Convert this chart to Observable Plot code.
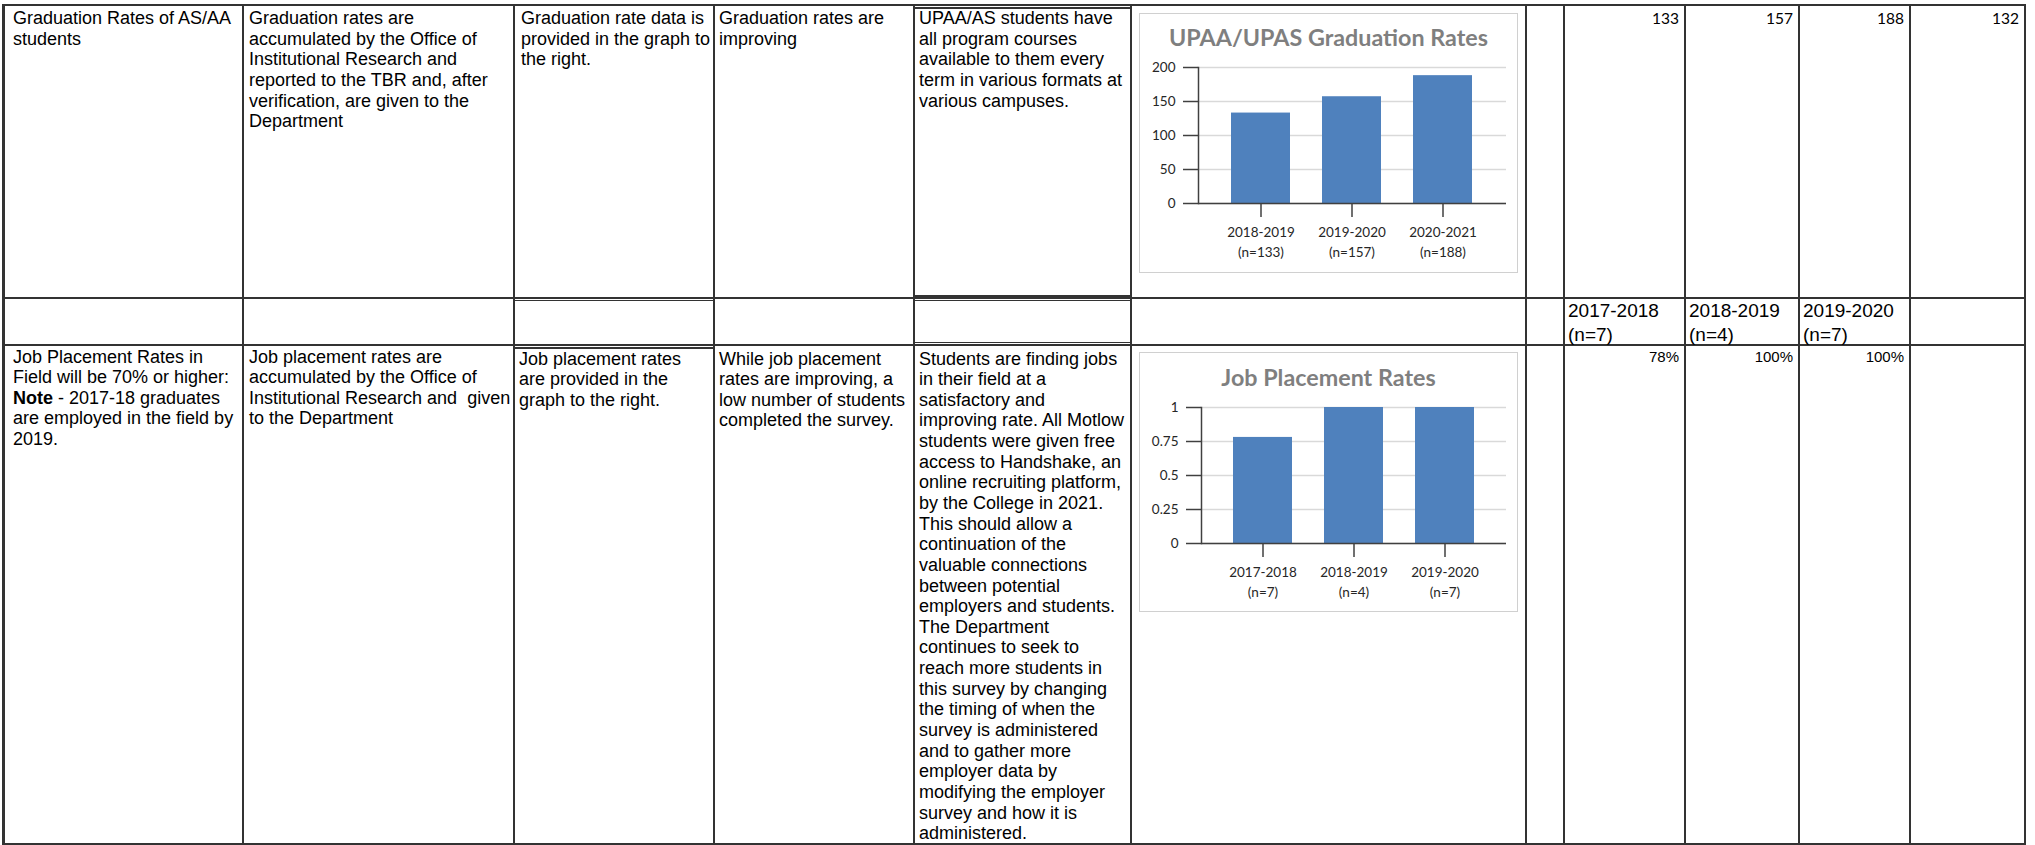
<!DOCTYPE html>
<html><head><meta charset="utf-8">
<script src="https://cdn.jsdelivr.net/npm/d3@7"></script>
<script src="https://cdn.jsdelivr.net/npm/@observablehq/plot@0.6"></script>
<style>
html,body{margin:0;padding:0;background:#fff;}
#page{position:relative;width:2035px;height:845px;overflow:hidden;background:#fff;font-family:"Liberation Sans",Arial,sans-serif;color:#000;}
.ln{position:absolute;background:#333;}
.cell{position:absolute;font-size:18px;line-height:20.65px;white-space:pre;}
.cell div{height:20.65px;}
.num{position:absolute;font-family:Lato,sans-serif;font-size:15.5px;line-height:20px;text-align:right;white-space:pre;}
.pct{position:absolute;font-size:15px;line-height:18px;text-align:right;white-space:pre;}
.hdr{position:absolute;font-size:19px;line-height:24px;white-space:pre;}
.chart{position:absolute;background:#fff;outline:1.5px solid #d0d0d0;outline-offset:-1.5px;}
.ctitle{position:absolute;left:0;right:0;text-align:center;font-family:Lato,sans-serif;font-weight:700;font-size:23.3px;color:#7f7f7f;line-height:28px;}
.chart svg{position:absolute;left:0;top:0;}
</style></head><body><div id="page"></div>
<script>
// ---------- data ----------
const gradYears = ["2018-2019", "2019-2020", "2020-2021"];
const gradN = [133, 157, 188];
const gradRates = [133, 157, 188];
const gradTicks = [0, 50, 100, 150, 200];
const gradTitle = "UPAA/UPAS Graduation Rates";

const jobYears = ["2017-2018", "2018-2019", "2019-2020"];
const jobN = [7, 4, 7];
const jobRates = [0.78, 1, 1];
const jobTicks = [0, 0.25, 0.5, 0.75, 1];
const jobTitle = "Job Placement Rates";

const gradTableValues = ["133", "157", "188", "132"];
const jobTableYears = ["2017-2018", "2018-2019", "2019-2020"];
const jobTableN = [7, 4, 7];
const jobTablePct = ["78%", "100%", "100%"];

const row1Text = [
  "Graduation Rates of AS/AA\nstudents",
  "Graduation rates are\naccumulated by the Office of\nInstitutional Research and\nreported to the TBR and, after\nverification, are given to the\nDepartment",
  "Graduation rate data is\nprovided in the graph to\nthe right.",
  "Graduation rates are\nimproving",
  "UPAA/AS students have\nall program courses\navailable to them every\nterm in various formats at\nvarious campuses."
];
const row3Text = [
  "Job Placement Rates in\nField will be 70% or higher:\n<b>Note</b><span> - 2017-18 graduates</span>\nare employed in the field by\n2019.",
  "Job placement rates are\naccumulated by the Office of\nInstitutional Research and  given\nto the Department",
  "Job placement rates\nare provided in the\ngraph to the right.",
  "While job placement\nrates are improving, a\nlow number of students\ncompleted the survey.",
  "Students are finding jobs\nin their field at a\nsatisfactory and\nimproving rate. All Motlow\nstudents were given free\naccess to Handshake, an\nonline recruiting platform,\nby the College in 2021.\nThis should allow a\ncontinuation of the\nvaluable connections\nbetween potential\nemployers and students.\nThe Department\ncontinues to seek to\nreach more students in\nthis survey by changing\nthe timing of when the\nsurvey is administered\nand to gather more\nemployer data by\nmodifying the employer\nsurvey and how it is\nadministered."
];

// ---------- layout ----------
const page = document.getElementById("page");
function el(cls, css, html) {
  const d = document.createElement("div");
  d.className = cls;
  for (const k in css) d.style[k] = css[k];
  if (html != null) d.innerHTML = html;
  page.appendChild(d);
  return d;
}
function lines(t) { return t.split("\n").map(l => `<div>${l}</div>`).join(""); }
function vline(x, y1, y2, w = 2) { el("ln", {left: (x - w / 2) + "px", top: (y1 - 1) + "px", width: w + "px", height: (y2 - y1 + 2) + "px"}); }
function hline(x1, x2, y, w = 2) { el("ln", {left: (x1 - 1) + "px", top: (y - w / 2) + "px", width: (x2 - x1 + 2) + "px", height: w + "px"}); }

const colX = [3, 243, 514, 714, 914, 1131, 1526, 1564, 1685, 1799, 1910, 2025];
const rowY = [5, 298, 345, 844];
colX.forEach((x, i) => vline(x, rowY[0], rowY[3], i === 0 ? 3 : (i === 5 ? 2.5 : 2)));
rowY.forEach(y => hline(colX[0], colX[colX.length - 1], y));
// double rules seen in the reference
hline(914, 1131, 7.8, 1.5);
hline(914, 1131, 295.8, 1.5);
hline(914, 1131, 300.6, 1.5);
hline(914, 1131, 342.4, 1.5);
hline(514, 714, 300.6, 1.5);
hline(514, 714, 347.8, 1.5);

const textLeft = [13, 249, 521, 719, 919];
row1Text.forEach((t, i) => el("cell", {left: textLeft[i] + "px", top: "8px"}, lines(t)));
const row3Left = [13, 249, 519, 719, 919];
row3Text.forEach((t, i) => el("cell", {left: row3Left[i] + "px", top: (i < 2 ? 346.5 : 348.5) + "px"}, lines(t)));

gradTableValues.forEach((v, i) => el("num", {left: colX[7 + i] + "px", width: (colX[8 + i] - colX[7 + i] - 6) + "px", top: "8px"}, v));
jobTableYears.forEach((y, i) => el("hdr", {left: (colX[7 + i] + 4) + "px", top: "299px"}, `${y}\n(n=${jobTableN[i]})`));
jobTablePct.forEach((v, i) => el("pct", {left: colX[7 + i] + "px", width: (colX[8 + i] - colX[7 + i] - 6) + "px", top: "348px"}, v));

// ---------- charts ----------
function barChart({cats, ns, values, ticks, domain, left, top, title, marginLeft, marginTop, marginBottom, titleY}) {
  const W = 379, H = 260;
  const labels = cats.map((c, i) => `${c}\n(n=${ns[i]})`);
  const data = labels.map((l, i) => ({label: l, value: values[i]}));
  const box = el("chart", {left: left + "px", top: top + "px", width: W + "px", height: H + "px"});
  const svg = Plot.plot({
    width: W, height: H,
    marginLeft, marginRight: 12, marginTop, marginBottom,
    style: {fontFamily: "Lato, sans-serif", background: "transparent", overflow: "visible"},
    x: {domain: labels, padding: 0.35, label: null},
    y: {domain, label: null},
    marks: [
      Plot.gridY(ticks, {stroke: "#d9d9d9", strokeOpacity: 1, strokeWidth: 1.3}),
      Plot.barY(data, {x: "label", y: "value", fill: "#4f81bd"}),
      Plot.axisY(ticks, {label: null, tickSize: 15, tickPadding: 8, stroke: "#404040", strokeWidth: 1.5, fill: "#262626", fontSize: 13.5, tickFormat: d => String(d)}),
      Plot.ruleY([0], {stroke: "#404040", strokeWidth: 1.5}),
      Plot.frame({anchor: "left", stroke: "#404040", strokeWidth: 1.5}),
      Plot.axisX({label: null, tickSize: 14, tickPadding: 6, stroke: "#404040", strokeWidth: 1.5, fill: "#262626", fontSize: 13.5, lineHeight: 1.43})
    ]
  });
  box.appendChild(svg);
  const t = document.createElement("div");
  t.className = "ctitle";
  t.style.top = (titleY - 14) + "px";
  t.textContent = title;
  box.appendChild(t);
}

barChart({cats: gradYears, ns: gradN, values: gradRates, ticks: gradTicks, domain: [0, 200],
  left: 1139, top: 13, title: gradTitle, marginLeft: 59, marginTop: 54, marginBottom: 70, titleY: 24});
barChart({cats: jobYears, ns: jobN, values: jobRates, ticks: jobTicks, domain: [0, 1],
  left: 1139, top: 352, title: jobTitle, marginLeft: 62, marginTop: 55, marginBottom: 69, titleY: 25});
</script>
</body></html>
